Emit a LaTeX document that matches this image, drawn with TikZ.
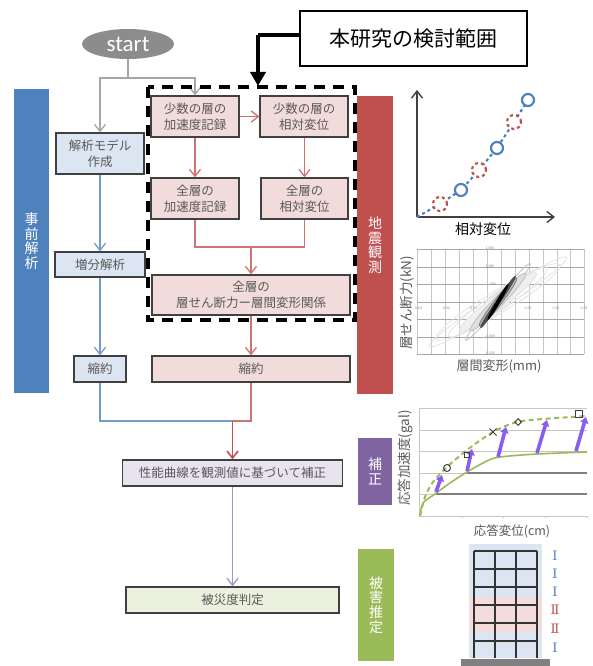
\documentclass[tikz,border=0pt]{standalone}
\usepackage{fontspec}
\setmainfont{Noto Sans CJK JP}
\newfontfamily\startfont{Carlito}
\newfontfamily\rankfont{DejaVu Serif}
\usetikzlibrary{arrows.meta, shapes.geometric, shapes.misc}
\definecolor{obsred}{HTML}{C0504D}
\definecolor{prepblue}{HTML}{4F81BD}
\definecolor{corrpurple}{HTML}{8064A2}
\definecolor{damagegreen}{HTML}{9BBB59}
\definecolor{boxline}{HTML}{404040}
\definecolor{boxtext}{HTML}{595959}
\definecolor{arrowviolet}{HTML}{8A5CF0}

\begin{document}
\begin{tikzpicture}[
    x=1pt, y=-1pt,
    flowbox/.style={draw=boxline, line width=1.3pt, text=boxtext, align=center, inner sep=0pt, font=\fontsize{12.5}{16}\selectfont},
    bluebox/.style={flowbox, fill=prepblue!20},
    pinkbox/.style={flowbox, fill=obsred!20},
    purplebox/.style={flowbox, fill=corrpurple!18},
    greenbox/.style={flowbox, fill=damagegreen!20},
    sidebar/.style={text=white, align=center, inner sep=0pt, font=\fontsize{14}{14.6}\selectfont},
    flowarrow/.style={line width=1.3pt, -{Straight Barb[length=7pt,width=11pt]}},
    flowline/.style={line width=1.3pt},
    axislabel/.style={text=boxtext, inner sep=0pt},
    ticklabel/.style={text=gray, inner sep=0pt, font=\fontsize{3.5}{4}\selectfont},
    hyst/.style={draw=gray!22, line width=0.8pt},
    bluemark/.style={circle, draw=prepblue, fill=white, line width=2.2pt, minimum size=12pt, inner sep=0pt},
    redmark/.style={circle, draw=obsred, fill=white, dashed, line width=2.2pt, minimum size=14pt, inner sep=0pt},
    obsmark/.style={draw=boxline, line width=1pt, inner sep=0pt, minimum size=6pt},
    liftarrow/.style={arrowviolet, line width=3.6pt, -{Triangle[length=6pt,width=8pt]}},
    ranklabel/.style={inner sep=0pt, font=\rankfont\fontsize{13}{14}\selectfont}
]
\useasboundingbox (0,0) rectangle (593,666);

% Side bars
\node[sidebar, fill=prepblue, minimum width=35pt, minimum height=304pt] (prepbar) at (31.5,241) {事\\前\\解\\析};
\node[sidebar, fill=obsred, minimum width=36pt, minimum height=298pt] (obsbar) at (375,245) {地\\震\\観\\測};
\node[sidebar, fill=corrpurple, minimum width=34pt, minimum height=67pt] (corrbar) at (375,471.5) {補\\正};
\node[sidebar, fill=damagegreen, minimum width=36pt, minimum height=112pt] (damagebar) at (376,605) {被\\害\\推\\定};

% Flow boxes
\node[ellipse, fill=gray!90, text=white, minimum width=92pt, minimum height=30pt, inner sep=0pt, font=\startfont\fontsize{23}{24}\selectfont] (start) at (128,44) {start};
\node[bluebox, minimum width=88pt, minimum height=41pt] (model) at (100,153.5) {解析モデル\\作成};
\node[bluebox, minimum width=90pt, minimum height=25pt] (pushover) at (100,264.5) {増分解析};
\node[bluebox, minimum width=52pt, minimum height=26pt] (modelreduce) at (100,369) {縮約};
\node[pinkbox, minimum width=88pt, minimum height=41pt] (fewacc) at (195,116.5) {少数の層の\\加速度記録};
\node[pinkbox, minimum width=88pt, minimum height=41pt] (fewdisp) at (304,116.5) {少数の層の\\相対変位};
\node[pinkbox, minimum width=88pt, minimum height=41pt] (allacc) at (195,198.5) {全層の\\加速度記録};
\node[pinkbox, minimum width=87pt, minimum height=41pt] (alldisp) at (304.5,198.5) {全層の\\相対変位};
\node[pinkbox, minimum width=198pt, minimum height=40pt] (shear) at (251,295) {全層の\\層せん断力ー層間変形関係};
\node[pinkbox, minimum width=198pt, minimum height=26pt] (obsreduce) at (251,369) {縮約};
\node[purplebox, minimum width=220pt, minimum height=26pt] (correct) at (232.5,473) {性能曲線を観測値に基づいて補正};
\node[greenbox, minimum width=213pt, minimum height=26pt] (judge) at (232.5,600) {被災度判定};

% Start connectors
\coordinate (startsplit) at (128,78);
\draw[gray!70, flowline] (start.south) -- (startsplit);
\draw[gray!70, flowarrow] (startsplit) -| (model.north);
\draw[gray!70, flowarrow] (startsplit) -| (fewacc.north);

% Analysis connectors
\draw[prepblue!80, flowarrow] (model.south) -- (pushover.north);
\draw[prepblue!80, flowarrow] (pushover.south) -- (modelreduce.north);

% Observation connectors
\coordinate (obsjoin) at (251,247);
\coordinate (finaljoin) at (232.5,421);
\draw[obsred!80, flowarrow] (fewacc.east) -- (fewdisp.west);
\draw[obsred!80, flowarrow] (fewacc.south) -- (allacc.north);
\draw[obsred!80, flowarrow] (fewdisp.south -| alldisp.north) -- (alldisp.north);
\draw[obsred!80, flowline] (allacc.south) |- (obsjoin);
\draw[obsred!80, flowline] (alldisp.south) |- (obsjoin);
\draw[obsred!80, flowarrow] (obsjoin) -- (shear.north);
\draw[obsred!80, flowarrow] (shear.south) -- (obsreduce.north);

% Merge and result
\draw[obsred!80, flowline] (obsreduce.south) |- (finaljoin);
\draw[prepblue!80, flowline] (modelreduce.south) |- (finaljoin);
\draw[obsred, line width=1.6pt, -{Straight Barb[length=7pt,width=11pt]}] (finaljoin) -- (correct.north);
\draw[corrpurple!70, flowarrow] (correct.south) -- (judge.north);

% Study range
\draw[black, line width=3.6pt, dash pattern=on 11pt off 8pt] (148,87) rectangle (355,320);
\node[draw, line width=1.6pt, fill=white, minimum width=227pt, minimum height=55pt, inner sep=0pt, font=\fontsize{21}{24}\selectfont] (range) at (413.5,38.5) {本研究の検討範囲};
\coordinate (rangecorner) at (258,35);
\coordinate (rangetarget) at (258,86);
\draw[line width=4pt] (range.west |- rangecorner) -- (rangecorner);
\draw[line width=4pt, -{Triangle[length=14pt,width=15pt]}] (rangecorner) -- (rangetarget);

% Relative displacement sketch
\coordinate (origin) at (417,217);
\coordinate (dispyend) at (417,90);
\coordinate (dispxend) at (555,217);
\draw[boxline, line width=1.4pt, -{Straight Barb[length=7pt,width=11pt]}] (origin) -- (dispyend);
\draw[boxline, line width=1.4pt, -{Straight Barb[length=7pt,width=11pt]}] (origin) -- (dispxend);
\node[inner sep=0pt, font=\fontsize{14}{16}\selectfont] (displabel) at (483,229) {相対変位};
\draw[prepblue, line width=2.2pt, dashed] (origin) -- (440,204) -- (461,190) -- (479,170) -- (497,148) -- (514,122) -- (528,100);
\node[redmark] (reda) at (440,204) {};
\node[bluemark] (bluea) at (461,190) {};
\node[redmark] (redb) at (479,170) {};
\node[bluemark] (blueb) at (497,148) {};
\node[redmark] (redc) at (514,122) {};
\node[bluemark] (bluec) at (528,100) {};

% Hysteresis chart
\draw[gray!45, line width=0.7pt] (417,249) -- (417,354) (431,249) -- (431,354) (445,249) -- (445,354) (459,249) -- (459,354) (473,249) -- (473,354) (487,249) -- (487,354) (501,249) -- (501,354) (515,249) -- (515,354) (529,249) -- (529,354) (543,249) -- (543,354) (557,249) -- (557,354) (570,249) -- (570,354) (584,249) -- (584,354);
\draw[gray!70, line width=0.8pt] (417,249) -- (584,249) (417,267) -- (584,267) (417,284) -- (584,284) (417,302) -- (584,302) (417,319) -- (584,319) (417,337) -- (584,337) (417,354) -- (584,354);
\draw[hyst, rotate around={33:(498,302)}] (498,302) ellipse (82pt and 8pt);
\draw[hyst, rotate around={31:(498,302)}] (498,302) ellipse (72pt and 11pt);
\draw[hyst, rotate around={35:(498,302)}] (498,302) ellipse (60pt and 9pt);
\draw[hyst, fill=gray!12, rotate around={37:(498,302)}] (498,302) ellipse (48pt and 7pt);
\draw[hyst, draw=gray!50, rotate around={50:(498,302)}] (498,302) ellipse (50pt and 4pt);
\draw[hyst, draw=gray!50, fill=gray!25, rotate around={46:(498,302)}] (498,302) ellipse (40pt and 5pt);
\draw[hyst, draw=gray, fill=gray!60, rotate around={52:(498,302)}] (498,302) ellipse (30pt and 3.5pt);
\draw[hyst, draw=black!70, fill=black!70, rotate around={56:(498,302)}] (498,302) ellipse (31pt and 2pt);
\draw[hyst, draw=black, fill=black, rotate around={60:(498,302)}] (498,302) ellipse (20pt and 1.5pt);
\node[ticklabel] (xticka) at (418,308) {-0.03};
\node[ticklabel] (xtickb) at (446,308) {-0.02};
\node[ticklabel] (xtickc) at (473,308) {-0.01};
\node[ticklabel] (xtickd) at (528,308) {0.01};
\node[ticklabel] (xticke) at (556,308) {0.02};
\node[ticklabel] (xtickf) at (584,308) {0.03};
\node[ticklabel] (ytickg) at (490,249) {1,500};
\node[ticklabel] (yticka) at (490,267) {1,000};
\node[ticklabel] (ytickb) at (493,284) {500};
\node[ticklabel] (ytickc) at (495,302) {0};
\node[ticklabel] (ytickd) at (490,337) {-1,000};
\node[ticklabel] (yticke) at (490,354) {-1,500};
\node[axislabel, rotate=90, font=\fontsize{13.5}{16}\selectfont] (shearlabel) at (407,303) {層せん断力(kN)};
\node[axislabel, font=\fontsize{13}{16}\selectfont] (driftlabel) at (499,366) {層間変形(mm)};

% Capacity curve chart
\draw[gray!45, line width=0.8pt] (419,408) -- (587,408) (419,430) -- (587,430) (419,451) -- (587,451);
\draw[gray!45, line width=0.8pt] (419,408) -- (419,516) -- (587,516) (462,516) -- (462,518) (503,516) -- (503,518) (545,516) -- (545,518) (587,516) -- (587,518);
\draw[gray!45, line width=0.8pt] (419,473) -- (467,473) (419,494) -- (436,494);
\draw[gray, line width=1.5pt] (467,473) -- (587,473) (436,494) -- (587,494);
\draw[damagegreen, line width=1.6pt] plot[smooth] coordinates {(420,516) (423,503) (435,494) (450,483) (467,472) (487,461) (500,457) (537,454) (587,452)};
\draw[damagegreen, line width=2pt, dash pattern=on 5pt off 3.5pt] plot[smooth] coordinates {(420,516) (425,497) (433,482) (447,467) (467,450) (493,432) (517,422) (543,419) (587,416)};
\draw[liftarrow] (436,492) -- (442,475);
\draw[liftarrow] (467,471) -- (472,449);
\draw[liftarrow] (498,457) -- (506,427);
\draw[liftarrow] (537,453) -- (547,420);
\draw[liftarrow] (576,451) -- (586,417);
\node[obsmark, circle, minimum size=7pt] (obsa) at (447,468) {};
\node[obsmark, minimum size=5.5pt] (obsb) at (467,455) {};
\node[draw=boxline, line width=1pt, cross out, inner sep=0pt, minimum size=6pt] (obsc) at (493,432) {};
\node[obsmark, diamond, minimum size=7pt] (obsd) at (518,422) {};
\node[obsmark, minimum size=7pt] (obse) at (579,414) {};
\node[axislabel, rotate=90, font=\fontsize{13.5}{16}\selectfont] (acclabel) at (405,458) {応答加速度(gal)};
\node[axislabel, font=\fontsize{12.5}{16}\selectfont] (resplabel) at (512,531) {応答変位(cm)};

% Building
\fill[prepblue!20] (469,544) rectangle (542,658);
\fill[obsred!20] (469,597) rectangle (542,632);
\fill[gray] (461,659) rectangle (550,666);
\draw[black!80, line width=1.5pt] (474,551) -- (474,658) (495,551) -- (495,658) (516,551) -- (516,658) (537,551) -- (537,658);
\draw[black!80, line width=1.5pt] (474,551) -- (537,551) (474,569) -- (537,569) (474,587) -- (537,587) (474,605) -- (537,605) (474,623) -- (537,623) (474,641) -- (537,641);
\node[ranklabel, text=prepblue] (rankone) at (555,556) {Ⅰ};
\node[ranklabel, text=prepblue] (ranktwo) at (555,574) {Ⅰ};
\node[ranklabel, text=prepblue] (rankthree) at (555,592) {Ⅰ};
\node[ranklabel, text=obsred] (rankfour) at (555,610) {Ⅱ};
\node[ranklabel, text=obsred] (rankfive) at (555,629) {Ⅱ};
\node[ranklabel, text=prepblue] (ranksix) at (555,648) {Ⅰ};
\end{tikzpicture}
\end{document}
